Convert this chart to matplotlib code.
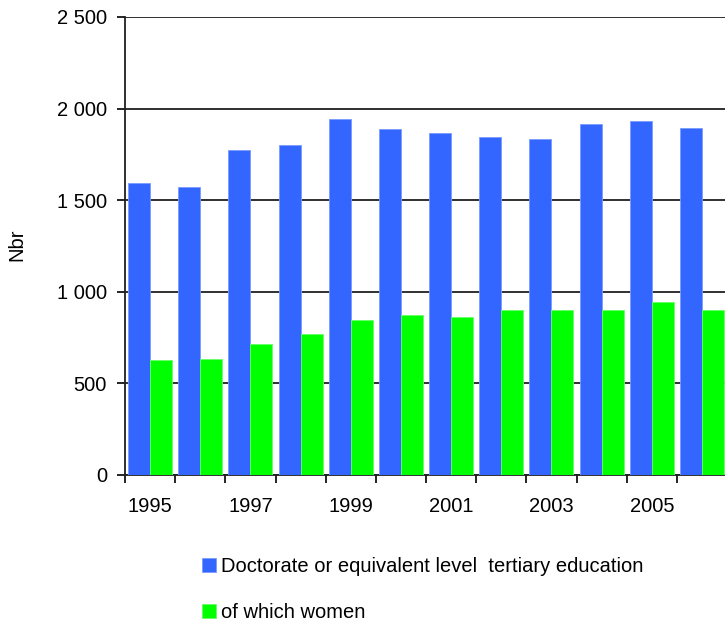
import matplotlib
matplotlib.use("Agg")
import matplotlib.pyplot as plt
from matplotlib.ticker import FuncFormatter, FixedLocator
import numpy as np

plt.rcParams['font.family'] = ['Liberation Sans', 'DejaVu Sans']

years = [1995, 1996, 1997, 1998, 1999, 2000, 2001, 2002, 2003, 2004, 2005, 2006]
doctorate = [1592, 1573, 1775, 1800, 1942, 1889, 1869, 1845, 1836, 1915, 1931, 1896]
women = [627, 635, 715, 767, 847, 873, 864, 898, 898, 898, 942, 898]
yticks = [0, 500, 1000, 1500, 2000, 2500]
label_doc = "Doctorate or equivalent level  tertiary education"
label_women = "of which women"

fig = plt.figure(figsize=(7.25, 6.25), dpi=100)
ax = fig.add_axes([125/725, 1-475/625, 602/725, 458/625])

x = np.arange(len(years))
w = 0.44
b1 = ax.bar(x - w/2, doctorate, width=w, color='#3366FF', edgecolor='#7A9CFF', linewidth=0.6, zorder=3, label=label_doc)
b2 = ax.bar(x + w/2, women, width=w, color='#00FF00', edgecolor='#66FF66', linewidth=0.6, zorder=3, label=label_women)

ax.set_xlim(-0.5, len(years) - 0.5)
ax.set_ylim(0, 2500)
ax.set_yticks(yticks)
ax.yaxis.set_major_formatter(FuncFormatter(lambda v, p: f"{int(v):,}".replace(",", " ")))
ax.grid(axis='y', color='#202020', linewidth=1.3, zorder=0)
ax.set_axisbelow(True)

fs = 14.5
ax.xaxis.set_major_locator(FixedLocator(x[::2]))
ax.set_xticklabels([str(y) for y in years[::2]])
ax.xaxis.set_minor_locator(FixedLocator(np.arange(-0.5, len(years), 1.0)))
ax.tick_params(axis='x', which='major', length=0, pad=16, labelsize=fs)
ax.tick_params(axis='x', which='minor', length=6, width=1.2, direction='out')
ax.tick_params(axis='y', length=6, width=1.2, direction='out', labelsize=fs, pad=7)

for s in ['right', 'top']:
    ax.spines[s].set_visible(False)
for s in ['left', 'bottom']:
    ax.spines[s].set_linewidth(1.3)
    ax.spines[s].set_color('#202020')

fig.text(17/725, 1-245/625, "Nbr", rotation=90, ha='center', va='center', fontsize=fs)

fig.legend(handles=[b1, b2], loc='upper left', bbox_to_anchor=(202/725, 1-557/625),
           bbox_transform=fig.transFigure, frameon=False, fontsize=fs,
           handlelength=0.7, handleheight=0.7, handletextpad=0.25, labelspacing=1.35,
           borderpad=0, borderaxespad=0)

fig.savefig("out.png", dpi=100)
